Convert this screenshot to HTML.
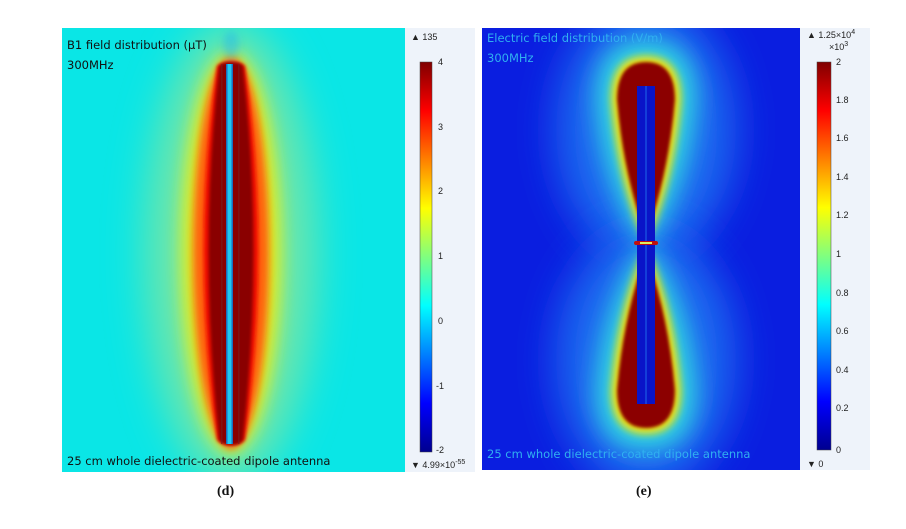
<!DOCTYPE html>
<html><head><style>
body{margin:0;width:906px;height:529px;background:#fff;overflow:hidden;font-family:"Liberation Sans",sans-serif}
svg{position:absolute;left:0;top:0}
</style></head><body>
<svg width="906" height="529" viewBox="0 0 906 529">
<defs>
<filter id="b20" x="-50%" y="-50%" width="200%" height="200%"><feGaussianBlur stdDeviation="20"/></filter>
<filter id="b12" x="-50%" y="-50%" width="200%" height="200%"><feGaussianBlur stdDeviation="12"/></filter>
<filter id="b8" x="-50%" y="-50%" width="200%" height="200%"><feGaussianBlur stdDeviation="8"/></filter>
<filter id="b4" x="-50%" y="-50%" width="200%" height="200%"><feGaussianBlur stdDeviation="4"/></filter>
<filter id="b2" x="-50%" y="-50%" width="200%" height="200%"><feGaussianBlur stdDeviation="1.5"/></filter>
<clipPath id="cl"><rect x="62" y="28" width="343" height="444"/></clipPath>
<clipPath id="cr"><rect x="482" y="28" width="318" height="442"/></clipPath>
<linearGradient id="jet" x1="0" y1="1" x2="0" y2="0">
<stop offset="0" stop-color="#00008f"/><stop offset="0.125" stop-color="#0000ff"/><stop offset="0.375" stop-color="#00ffff"/><stop offset="0.625" stop-color="#ffff00"/><stop offset="0.875" stop-color="#ff0000"/><stop offset="1" stop-color="#800000"/>
</linearGradient>
</defs>
<!-- left panel -->
<g clip-path="url(#cl)">
<rect x="62" y="28" width="343" height="444" fill="#0ae6e6"/>
<ellipse cx="231" cy="253" rx="85" ry="230" fill="#70e6a8" filter="url(#b20)"/>
<ellipse cx="231" cy="253" rx="50" ry="200" fill="#e0ee20" filter="url(#b8)"/>
<ellipse cx="231" cy="253" rx="38" ry="196" fill="#ff6010" filter="url(#b4)"/>
<path d="M217 66 Q222 62 231 62 Q240 62 245 66 Q272 250 245 440 Q240 445 231 445 Q222 445 217 440 Q190 250 217 66Z" fill="#f01000" filter="url(#b2)"/>
<path d="M219 66 Q222 62 231 62 Q240 62 243 66 Q264 250 243 440 Q240 445 231 445 Q222 445 219 440 Q198 250 219 66Z" fill="#8a0000" filter="url(#b2)"/>
<rect x="226" y="64" width="7" height="380" fill="#1a70c0"/>
<rect x="227.5" y="64" width="4" height="380" fill="#20c8f0"/>
<rect x="221" y="64" width="1.5" height="380" fill="#7a2020" opacity=".6"/>
<rect x="238" y="64" width="1.5" height="380" fill="#7a2020" opacity=".6"/>
<ellipse cx="231" cy="45" rx="8" ry="14" fill="#20b8f0" opacity=".5" filter="url(#b4)"/>
</g>
<rect x="405" y="28" width="70" height="444" fill="#eef3fa"/>
<rect x="420" y="62" width="12" height="390" fill="url(#jet)" stroke="#444" stroke-width=".5"/>
<g font-size="9" fill="#222">
<text x="411" y="40">▲ 135</text>
<text x="438" y="65">4</text><text x="438" y="130">3</text><text x="438" y="194">2</text><text x="438" y="259">1</text><text x="438" y="324">0</text><text x="436" y="389">-1</text><text x="436" y="453">-2</text>
<text x="411" y="468">▼ 4.99×10<tspan dy="-4" font-size="7">-55</tspan></text>
</g>
<g font-size="11.5" fill="#111" font-family="'DejaVu Sans',sans-serif">
<text x="67" y="49">B1 field distribution (µT)</text>
<text x="67" y="69">300MHz</text>
<text x="67" y="465">25 cm whole dielectric-coated dipole antenna</text>
</g>
<!-- right panel -->
<g clip-path="url(#cr)">
<rect x="482" y="28" width="318" height="442" fill="#0a1ee0"/>
<ellipse cx="646" cy="130" rx="90" ry="130" fill="#1a6af0" filter="url(#b20)"/>
<ellipse cx="646" cy="360" rx="90" ry="130" fill="#1a6af0" filter="url(#b20)"/>
<path d="M596 100 Q596 40 646 40 Q696 40 696 100 Q690 180 652 240 L640 240 Q602 180 596 100Z" fill="#30d8e0" filter="url(#b12)"/>
<path d="M596 390 Q596 450 646 450 Q696 450 696 390 Q690 310 652 250 L640 250 Q602 310 596 390Z" fill="#30d8e0" filter="url(#b12)"/>
<path d="M611 100 Q611 56 646 56 Q681 56 681 100 Q675 175 650 236 L642 236 Q617 175 611 100Z" fill="#f0e010" filter="url(#b4)"/>
<path d="M611 390 Q611 434 646 434 Q681 434 681 390 Q675 315 650 254 L642 254 Q617 315 611 390Z" fill="#f0e010" filter="url(#b4)"/>
<path d="M617 100 Q617 62 646 62 Q675 62 675 100 Q669 170 649 228 L643 228 Q623 170 617 100Z" fill="#8c0000" filter="url(#b2)"/>
<path d="M617 390 Q617 428 646 428 Q675 428 675 390 Q669 320 649 262 L643 262 Q623 320 617 390Z" fill="#8c0000" filter="url(#b2)"/>
<rect x="637" y="86" width="18" height="318" fill="#0a14c8"/>
<rect x="645" y="86" width="2" height="318" fill="#1850e0" opacity=".7"/>
<rect x="634" y="241" width="24" height="4" fill="#c01010" rx="2"/>
<rect x="640" y="242" width="12" height="2" fill="#e0f060"/>
</g>
<rect x="800" y="28" width="70" height="442" fill="#eef3fa"/>
<rect x="817" y="62" width="14" height="388" fill="url(#jet)" stroke="#444" stroke-width=".5"/>
<g font-size="9" fill="#222">
<text x="807" y="38">▲ 1.25×10<tspan dy="-4" font-size="7">4</tspan></text>
<text x="829" y="50">×10<tspan dy="-4" font-size="7">3</tspan></text>
<text x="836" y="65">2</text><text x="836" y="103">1.8</text><text x="836" y="141">1.6</text><text x="836" y="180">1.4</text><text x="836" y="218">1.2</text><text x="836" y="257">1</text><text x="836" y="296">0.8</text><text x="836" y="334">0.6</text><text x="836" y="373">0.4</text><text x="836" y="411">0.2</text><text x="836" y="453">0</text>
<text x="807" y="467">▼ 0</text>
</g>
<g font-size="11.5" fill="#30b0f0" font-family="'DejaVu Sans',sans-serif">
<text x="487" y="42">Electric field distribution (V/m)</text>
<text x="487" y="62">300MHz</text>
<text x="487" y="458">25 cm whole dielectric-coated dipole antenna</text>
</g>
<g font-family="'Liberation Serif',serif" font-weight="bold" font-size="14" fill="#111">
<text x="217" y="495">(d)</text>
<text x="636" y="495">(e)</text>
</g>
</svg>
</body></html>
